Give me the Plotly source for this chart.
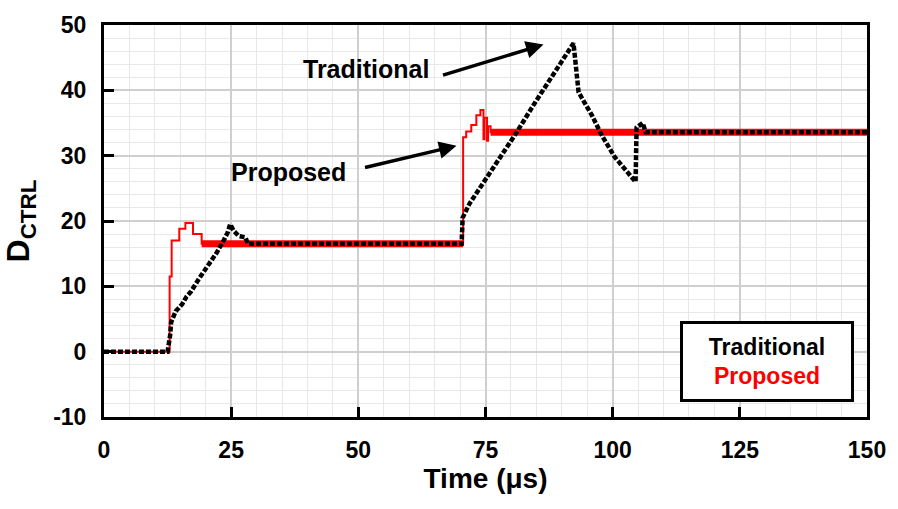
import plotly.graph_objects as go

# ---- data ----
trad_t = [0, 12.5, 13.0, 13.2, 14.1, 15.4, 16.2, 17.1, 18.7, 19.5, 20.6, 22.2, 23.5, 24.3, 24.8,
          25.5, 26.5, 27.8, 28.3, 70.3, 70.5, 71.9, 80.9, 84.8, 92.3, 92.7, 93.3, 95.9, 97.8,
          100.4, 103.6, 104.5, 104.7, 105.9, 106.5, 150]
trad_v = [0, 0, 2.5, 4.5, 6.2, 7.3, 8.4, 9.2, 11.2, 12.1, 13.5, 15.2, 17.0, 18.2, 19.5,
          18.5, 17.7, 17.5, 16.5, 16.5, 20.5, 22.7, 33.3, 38.2, 47.2, 44.2, 39.7, 36.2, 33.2,
          29.8, 26.7, 26.0, 34.3, 35.0, 33.6, 33.6]

# proposed, step-wise (value holds until next time)
prop_t = [0, 12.9, 13.3, 14.8, 16.0, 17.5, 19.2, 70.6, 71.2, 72.2, 73.2, 74.0, 74.6, 74.8,
          75.3, 75.5, 76.0, 150]
prop_v = [0, 11.5, 17.0, 18.8, 19.7, 18.0, 16.5, 32.8, 33.7, 34.7, 36.2, 37.0, 32.5, 35.8,
          32.3, 34.5, 33.6, 33.6]

# steady-state bands of the proposed controller
band_t = [19.2, 70.6, None, 76.0, 150]
band_v = [16.5, 16.5, None, 33.6, 33.6]

x_ticks = [0, 25, 50, 75, 100, 125, 150]
y_ticks = [-10, 0, 10, 20, 30, 40, 50]
y_tick_text = ["-10", "0", "10", "20", "30", "40", "50"]

FONT = "Liberation Sans, Arial, sans-serif"
RED = "#ff0000"

fig = go.Figure()
fig.add_trace(go.Scatter(x=band_t, y=band_v, mode="lines",
                         line=dict(color=RED, width=7), hoverinfo="skip", showlegend=False))
fig.add_trace(go.Scatter(x=prop_t, y=prop_v, mode="lines", line_shape="hv",
                         line=dict(color=RED, width=2), name="Proposed", showlegend=False))
fig.add_trace(go.Scatter(x=trad_t, y=trad_v, mode="lines",
                         line=dict(color="black", width=4.5, dash="5px,2px"),
                         name="Traditional", showlegend=False))

axis_common = dict(
    showline=True, linecolor="black", linewidth=3, mirror=True,
    ticks="inside", ticklen=10, tickwidth=3, tickcolor="black",
    showgrid=True, gridcolor="#cfcfcf", gridwidth=1.5,
    zeroline=False,
    tickfont=dict(family=FONT, size=23, color="black", weight="bold"),
    ticklabelstandoff=10,
)

fig.update_xaxes(**axis_common, range=[0, 150], tickvals=x_ticks,
                 minor=dict(dtick=5, showgrid=True, gridcolor="#e8e8e8", gridwidth=1, ticks=""),
                 title=dict(text="Time (μs)", standoff=4,
                            font=dict(family=FONT, size=28, color="black", weight="bold")))
fig.update_yaxes(**axis_common, range=[-10, 50], tickvals=y_ticks, ticktext=y_tick_text,
                 minor=dict(dtick=2, showgrid=True, gridcolor="#e8e8e8", gridwidth=1, ticks=""),
                 title=dict(text="D<sub>CTRL</sub>", standoff=14,
                            font=dict(family=FONT, size=32, color="black", weight="bold")))

ann_font = dict(family=FONT, size=25, color="black", weight="bold")
fig.add_annotation(x=86.4, y=47.0, xref="x", yref="y", ax=-102, ay=31,
                   showarrow=True, arrowhead=2, arrowsize=1, arrowwidth=3.5, arrowcolor="black", text="")
fig.add_annotation(x=69.3, y=31.5, xref="x", yref="y", ax=-93, ay=22,
                   showarrow=True, arrowhead=2, arrowsize=1, arrowwidth=3.5, arrowcolor="black", text="")
fig.add_annotation(x=51.5, y=43.3, xref="x", yref="y", text="Traditional", showarrow=False, font=ann_font)
fig.add_annotation(x=36.3, y=27.5, xref="x", yref="y", text="Proposed", showarrow=False, font=ann_font)

# legend box
fig.add_annotation(x=0.869, y=0.1416, xref="paper", yref="paper", xanchor="center", yanchor="middle",
                   text="Traditional<br><span style='color:#ff0000'>Proposed</span>",
                   showarrow=False, align="center", width=168, height=75,
                   bordercolor="black", borderwidth=3, borderpad=0, bgcolor="white",
                   font=dict(family=FONT, size=23, color="black", weight="bold"))

fig.update_layout(
    width=898, height=509,
    margin=dict(l=104, r=22, t=18, b=92),
    plot_bgcolor="white", paper_bgcolor="white",
    showlegend=False,
)

fig.write_html("out.html")
